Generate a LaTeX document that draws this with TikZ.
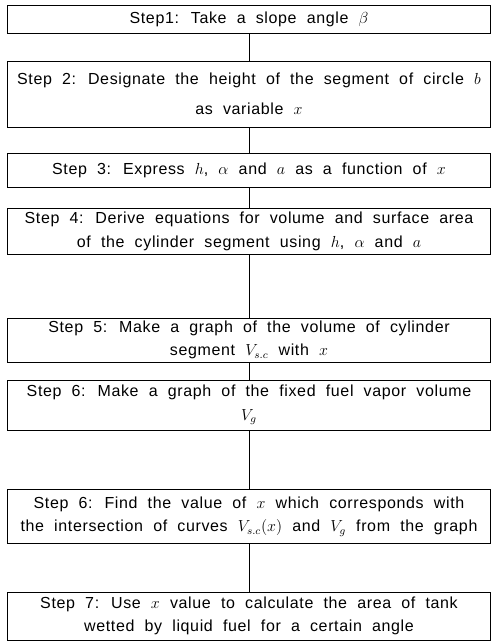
\documentclass[tikz,border=0pt]{standalone}
\usepackage{amsmath,amssymb}
\usepackage{fontspec}
\setmainfont{Liberation Sans}[LetterSpace=4,WordSpace=2]
\usepackage{tikz}

\tikzset{
  stepbox/.style={draw, line width=0.6pt, minimum width=362pt, inner sep=0pt,
    align=center, font=\fontsize{12}{17.5}\selectfont},
}

\begin{document}
\begin{tikzpicture}[x=0.75pt,y=-0.75pt]
  \useasboundingbox (0,0) rectangle (492,644);

  % steps 1--4
  \node[stepbox, minimum height=21pt] (s1) at (249,19) {Step1: Take a slope angle $\beta$};
  \node[stepbox, minimum height=49.5pt] (s2) at (249,94)
    {Step 2: Designate the height of the segment of circle $b$\\[5pt] as variable $x$};
  \node[stepbox, minimum height=26pt] (s3) at (249,170.5)
    {Step 3: Express $h$, $\alpha$ and $a$ as a function of $x$};
  \node[stepbox, minimum height=35pt] (s4) at (249,231.5)
    {Step 4: Derive equations for volume and surface area\\ of the cylinder segment using $h$, $\alpha$ and $a$};

  % steps 5--7
  \node[stepbox, minimum height=33pt] (s5) at (249,340)
    {Step 5: Make a graph of the volume of cylinder\\ segment $V_{s.c}$ with $x$};
  \node[stepbox, minimum height=37.5pt] (s6) at (249,405)
    {Step 6: Make a graph of the fixed fuel vapor volume\\ $V_g$};
  \node[stepbox, minimum height=40pt] (s7) at (249,516.5)
    {Step 6: Find the value of $x$ which corresponds with\\ the intersection of curves $V_{s.c}(x)$ and $V_g$ from the graph};
  \node[stepbox, minimum height=36pt] (s8) at (249,616)
    {Step 7: Use $x$ value to calculate the area of tank\\ wetted by liquid fuel for a certain angle};

  \foreach \a/\b in {s1/s2,s2/s3,s3/s4,s4/s5,s5/s6,s6/s7,s7/s8} {
    \draw[line width=0.6pt] (\a) -- (\b);
  }
\end{tikzpicture}
\end{document}
